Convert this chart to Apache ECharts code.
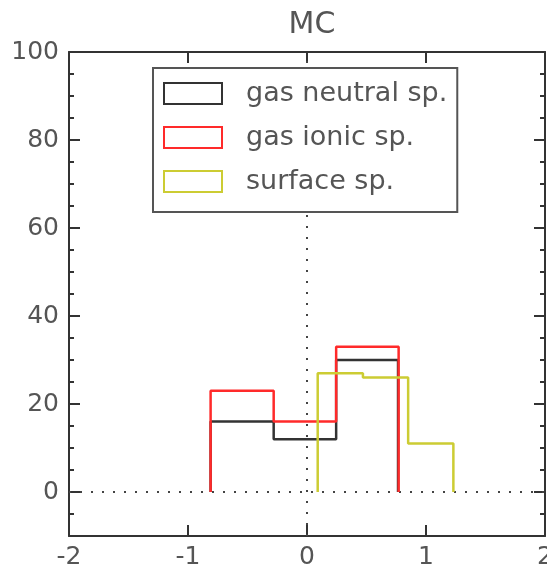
<!DOCTYPE html>
<html>
<head>
<meta charset="utf-8">
<script src="https://cdn.jsdelivr.net/npm/echarts@6/dist/echarts.min.js"></script>
<style>html,body{margin:0;padding:0;background:#fff}#c{width:547px;height:575px}</style>
</head>
<body>
<div id="c"></div>
<script>
// ---- data ----
var title = 'MC';
var seriesNames = ['gas neutral sp.', 'gas ionic sp.', 'surface sp.'];
var neutralEdges = [-0.81, -0.28, 0.245, 0.765];
var neutralValues = [16, 12, 30];
var ionicEdges = [-0.81, -0.28, 0.245, 0.77];
var ionicValues = [23, 16, 33];
var surfaceEdges = [0.09, 0.47, 0.85, 1.23];
var surfaceValues = [27, 26, 11];
var xTicks = [-2, -1, 0, 1, 2];
var yTicks = [0, 20, 40, 60, 80, 100];
var yMin = -10, yMax = 100;

function stepOutline(edges, values) {
  var pts = [[edges[0], 0]];
  for (var i = 0; i < values.length; i++) {
    pts.push([edges[i], values[i]]);
    pts.push([edges[i + 1], values[i]]);
  }
  pts.push([edges[edges.length - 1], 0]);
  return pts;
}

var colors = ['#333333', '#ff2a2a', '#cccc33'];
var FONT = 'DejaVu Sans';
var txt = '#555555';
var axisColor = '#333333';

var W = 547, H = 575;
var G = {left: 69, right: 2, top: 52, bottom: 39};
var plotH = H - G.top - G.bottom;
// second grid: same box but bottom at y=0, so major ticks fall on 0,20,...,100
var zeroBottom = G.bottom + plotH * (0 - yMin) / (yMax - yMin);

var chart = echarts.init(document.getElementById('c'), null, {renderer: 'canvas'});
var tickStyle = {color: axisColor, width: 2};
chart.setOption({
  animation: false,
  backgroundColor: '#fff',
  title: {text: title, left: 307, textAlign: 'center', top: 5,
    textStyle: {fontFamily: FONT, fontSize: 30, fontWeight: 'normal', color: txt}},
  grid: [
    {left: G.left, right: G.right, top: G.top, bottom: G.bottom, outerBoundsMode: 'none'},
    {left: G.left, right: G.right, top: G.top, bottom: zeroBottom, outerBoundsMode: 'none'}
  ],
  legend: {
    left: 153, top: 68,
    orient: 'vertical',
    padding: [12, 10, 17, 10],
    itemWidth: 58, itemHeight: 21, itemGap: 17,
    borderColor: '#555', borderWidth: 2,
    backgroundColor: '#fff',
    textStyle: {fontFamily: FONT, fontSize: 27, lineHeight: 27, color: txt, padding: [0, 0, 0, 19]},
    data: seriesNames.map(function (n, i) {
      return {name: n, icon: 'rect', itemStyle: {color: '#fff', borderColor: colors[i], borderWidth: 2}};
    })
  },
  xAxis: [
    {gridIndex: 0, type: 'value', min: -2, max: 2, interval: 1, position: 'bottom',
      axisLine: {show: true, onZero: false, lineStyle: {color: axisColor, width: 2}},
      splitLine: {show: false},
      axisTick: {show: true, inside: true, length: 11, lineStyle: tickStyle},
      axisLabel: {fontFamily: FONT, fontSize: 25, color: txt, margin: 9,
        formatter: function (v) { return xTicks.indexOf(v) >= 0 ? String(v) : ''; }}},
    {gridIndex: 0, type: 'value', min: -2, max: 2, interval: 1, position: 'top',
      axisLine: {show: true, onZero: false, lineStyle: {color: axisColor, width: 2}},
      splitLine: {show: false},
      axisTick: {show: true, inside: true, length: 11, lineStyle: tickStyle},
      axisLabel: {show: false}},
    {gridIndex: 1, type: 'value', min: -2, max: 2, show: false}
  ],
  yAxis: [
    // minor ticks every 5 (grid 0)
    {gridIndex: 0, type: 'value', min: yMin, max: yMax, interval: 5, position: 'left',
      axisLine: {show: true, onZero: false, lineStyle: {color: axisColor, width: 2}},
      splitLine: {show: false},
      axisTick: {show: true, inside: true, length: 5, lineStyle: tickStyle},
      axisLabel: {show: false}},
    {gridIndex: 0, type: 'value', min: yMin, max: yMax, interval: 5, position: 'right',
      axisLine: {show: true, onZero: false, lineStyle: {color: axisColor, width: 2}},
      splitLine: {show: false},
      axisTick: {show: true, inside: true, length: 5, lineStyle: tickStyle},
      axisLabel: {show: false}},
    // major ticks and labels at 0,20,...,100 (grid 1)
    {gridIndex: 1, type: 'value', min: yTicks[0], max: yTicks[yTicks.length - 1], interval: 20, position: 'left',
      axisLine: {show: false, onZero: false},
      splitLine: {show: false},
      axisTick: {show: true, inside: true, length: 11, lineStyle: tickStyle},
      axisLabel: {fontFamily: FONT, fontSize: 25, color: txt, margin: 10}},
    {gridIndex: 1, type: 'value', min: yTicks[0], max: yTicks[yTicks.length - 1], interval: 20, position: 'right',
      axisLine: {show: false, onZero: false},
      splitLine: {show: false},
      axisTick: {show: true, inside: true, length: 11, lineStyle: tickStyle},
      axisLabel: {show: false}}
  ],
  series: [
    {type: 'line', name: 'zeroH', xAxisIndex: 0, yAxisIndex: 0, data: [[-2, 0], [2, 0]], symbol: 'none', silent: true,
      lineStyle: {color: '#444', width: 2, type: [2, 9]}, z: 1},
    {type: 'line', name: 'zeroV', xAxisIndex: 0, yAxisIndex: 0, data: [[0, yMin], [0, yMax]], symbol: 'none', silent: true,
      lineStyle: {color: '#444', width: 2, type: [2, 9]}, z: 1},
    {type: 'line', name: seriesNames[0], xAxisIndex: 0, yAxisIndex: 0, data: stepOutline(neutralEdges, neutralValues), symbol: 'none',
      color: colors[0], lineStyle: {color: colors[0], width: 2.5}, z: 2},
    {type: 'line', name: seriesNames[1], xAxisIndex: 0, yAxisIndex: 0, data: stepOutline(ionicEdges, ionicValues), symbol: 'none',
      color: colors[1], lineStyle: {color: colors[1], width: 2.5}, z: 3},
    {type: 'line', name: seriesNames[2], xAxisIndex: 0, yAxisIndex: 0, data: stepOutline(surfaceEdges, surfaceValues), symbol: 'none',
      color: colors[2], lineStyle: {color: colors[2], width: 2.5}, z: 4}
  ]
});
</script>
</body>
</html>
